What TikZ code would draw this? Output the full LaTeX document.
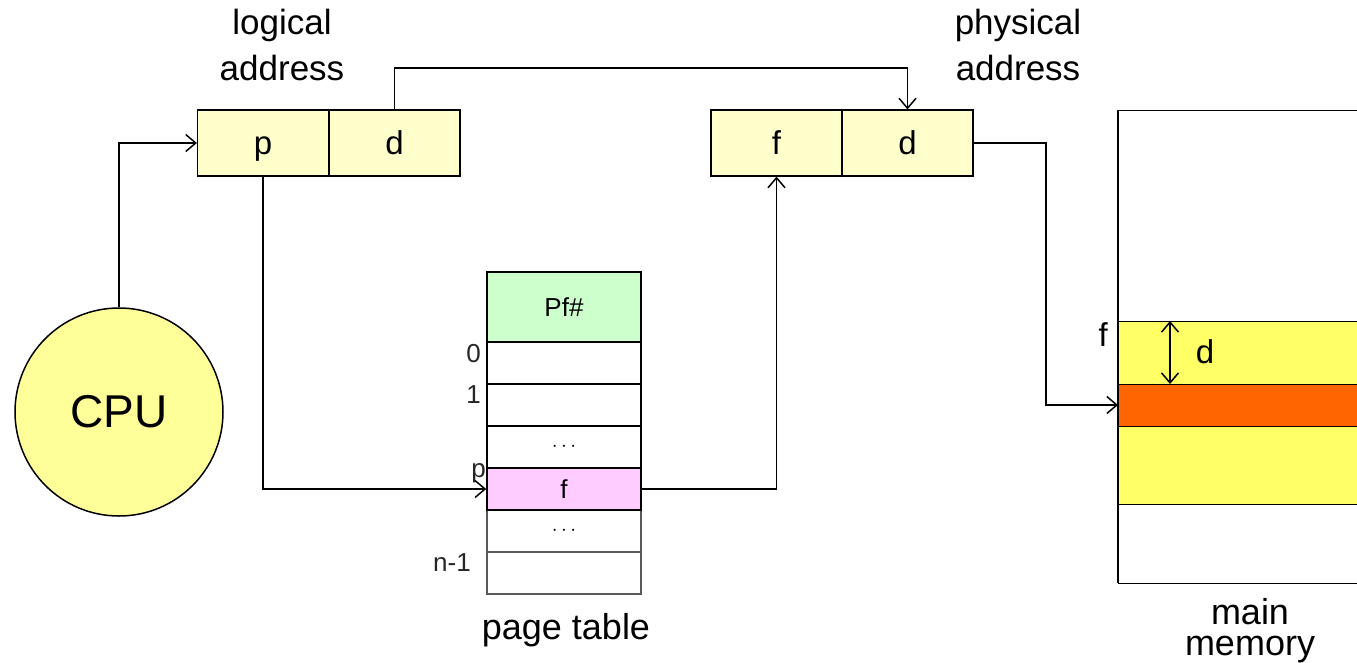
\documentclass[tikz,border=0pt]{standalone}
\usepackage{fontspec}
\setmainfont{Liberation Sans}
\usetikzlibrary{arrows.meta}
\definecolor{boxfill}{HTML}{FFFFCC}
\definecolor{cpufill}{HTML}{FFFF99}
\definecolor{headfill}{HTML}{CCFFCC}
\definecolor{hitfill}{HTML}{FFCCFF}
\definecolor{memyellow}{HTML}{FFFF66}
\definecolor{memorange}{HTML}{FF6600}
\tikzset{
  conn/.style={line width=1.5pt, -{Straight Barb[length=10pt,width=17pt,line width=1.5pt]}},
  cell/.style={draw, line width=1.2pt, fill=boxfill, inner sep=0pt,
    minimum height=66pt, minimum width=131pt, text height=23pt, text depth=0pt,
    font=\fontsize{33}{38}\selectfont},
  row/.style={draw, line width=1.6pt, fill=white, inner sep=0pt,
    minimum width=154pt, minimum height=42pt},
  idx/.style={anchor=east, inner sep=0pt, font=\fontsize{26}{30}\selectfont, text=black!85},
  biglabel/.style={align=center, inner sep=0pt, font=\fontsize{35}{46}\selectfont},
  band/.style={draw, line width=1.4pt, inner sep=0pt, minimum width=290pt, anchor=north west},
}
\begin{document}
\begin{tikzpicture}[x=1pt, y=-1pt]
  \useasboundingbox (0,0) rectangle (1357,662);
  \clip (0,0) rectangle (1357,662);

  % main memory column (extends beyond the right edge)
  \node[band, fill=white, minimum height=473pt] (mem) at (1118,110) {};
  \node[band, fill=memyellow, minimum height=183pt] (frame) at (1118,321) {};
  \node[band, fill=memorange, minimum height=42pt] (word) at (1118,384) {};
  \draw[line width=1.5pt] (1118,110) -- (1118,583);
  \node[anchor=east, inner sep=0pt, font=\fontsize{33}{38}\selectfont] (flab) at (1108,335) {f};
  \coordinate (dtop) at (1170,321);
  \coordinate (dbot) at (1170,384);
  \draw[line width=1.5pt, {Straight Barb[length=10pt,width=17pt,line width=1.5pt]}-{Straight Barb[length=10pt,width=17pt,line width=1.5pt]}] (dtop) -- (dbot);
  \node[inner sep=0pt, font=\fontsize{33}{38}\selectfont] (dlab) at (1205,352) {d};
  \coordinate (memin) at (1118,405);

  % CPU
  \node[circle, draw, line width=1.5pt, fill=cpufill, minimum size=208pt, inner sep=0pt,
        font=\fontsize{46}{54}\selectfont] (cpu) at (119,412) {CPU};

  % logical and physical address registers
  \node[cell] (lp) at (263,143) {p};
  \node[cell] (ld) at (394.5,143) {d};
  \node[cell] (pf) at (776.5,143) {f};
  \node[cell] (pd) at (907.5,143) {d};

  \node[biglabel] (loglab) at (282,45) {logical\\address};
  \node[biglabel] (phylab) at (1018,45) {physical\\address};

  % page table
  \node[row, fill=headfill, minimum height=70pt, font=\fontsize{26}{30}\selectfont] (pthead) at (564,307) {Pf\#};
  \node[row] (pt0) at (564,363) {};
  \node[row] (pt1) at (564,405) {};
  \node[row, font=\fontsize{21}{24}\selectfont] (ptd1) at (564,447) {\raisebox{-5pt}{$\cdots$}};
  \node[row, draw=black!65, font=\fontsize{21}{24}\selectfont] (ptd2) at (564,531) {\raisebox{-5pt}{$\cdots$}};
  \node[row, draw=black!65] (ptn) at (564,573) {};
  \node[row, fill=hitfill, font=\fontsize{26}{30}\selectfont] (ptp) at (564,489) {f};
  \node[idx] (i0) at (481,354) {0};
  \node[idx] (i1) at (481,395) {1};
  \node[idx] (ip) at (486,473) {p};
  \node[idx] (in) at (471,563) {n-1};
  \node[inner sep=0pt, font=\fontsize{36}{40}\selectfont] (ptlab) at (566,630) {page table};

  % two-line label, its lower line running off the bottom edge
  \node[biglabel, font=\fontsize{36}{31}\selectfont] (memlab) at (1250,631) {main\\memory};

  % connectors
  \draw[conn] (cpu.north) |- (lp.west);
  \draw[conn] (lp.south) |- (ptp.west);
  \draw[conn] (ld.north) -- (ld.north |- 0,68) -| (pd.north);
  \draw[conn] (ptp.east) -| (pf.south);
  \draw[conn] (pd.east) -- (pd.east -| 1046,0) |- (memin);
\end{tikzpicture}
\end{document}
